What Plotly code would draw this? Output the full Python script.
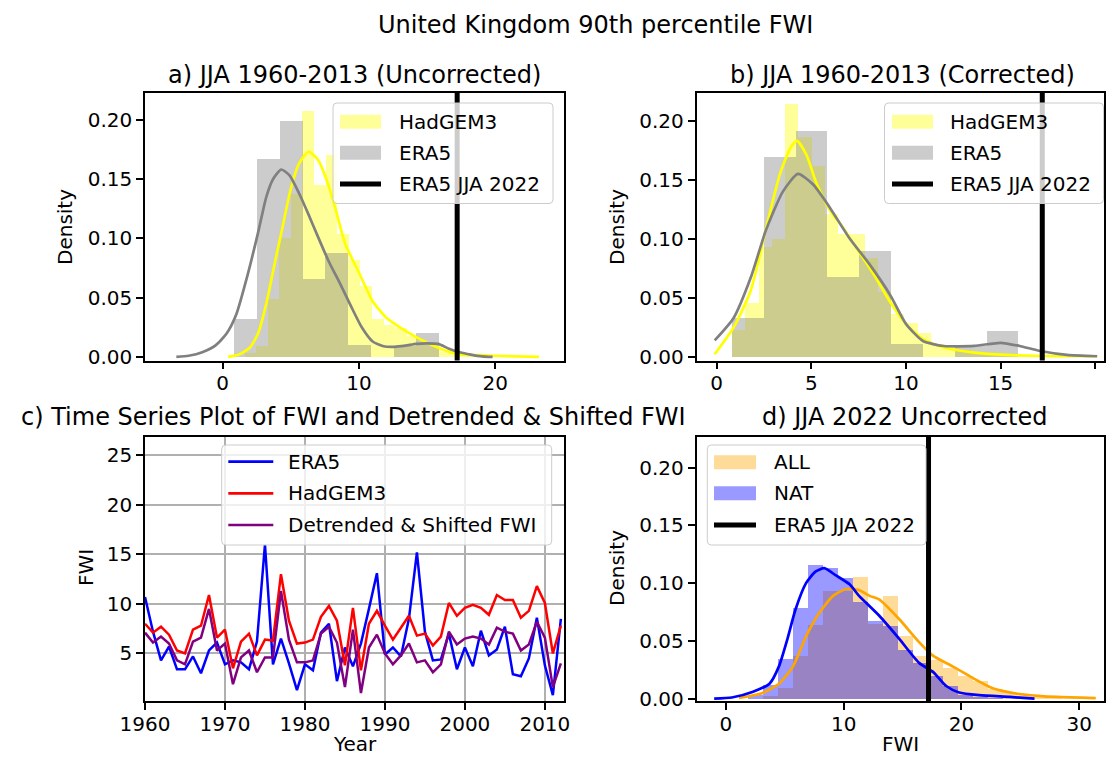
import numpy as np
import plotly.graph_objects as go

W, H = 1107, 762
FONT = "DejaVu Sans"

# ---------------- data ----------------
years = list(range(1960, 2013))
era5_fwi = [10.7, 7.2, 4.3, 5.7, 3.4, 3.4, 4.7, 3.0, 5.3, 6.1,
            3.9, 4.3, 4.1, 3.4, 6.2, 16.0, 3.9, 6.5, 4.0, 1.3,
            3.9, 3.3, 7.1, 8.0, 2.2, 5.6, 3.7, 6.0, 9.5, 13.1,
            4.9, 5.6, 4.7, 8.5, 15.2, 7.2, 4.3, 4.4, 7.0, 3.4,
            5.6, 3.7, 7.3, 4.8, 5.4, 7.7, 2.9, 2.7, 4.5, 8.6,
            3.8, 0.8, 8.5]
hadgem3_fwi = [8.0, 7.1, 7.7, 6.9, 5.3, 5.0, 7.4, 7.8, 10.9, 6.6,
               7.4, 3.5, 6.2, 7.0, 4.8, 6.4, 6.3, 13.0, 8.3, 6.0,
               6.1, 6.4, 8.7, 9.8, 8.3, 3.8, 9.6, 3.3, 8.0, 9.3,
               7.8, 6.4, 7.6, 8.8, 6.8, 7.0, 5.8, 6.7, 10.1, 8.8,
               9.6, 9.9, 9.6, 8.9, 10.9, 10.4, 10.4, 8.6, 9.3, 11.8,
               10.1, 5.0, 7.8]
detrended_fwi = [7.1, 6.1, 6.7, 6.0, 4.3, 3.9, 6.2, 6.6, 9.5, 5.3,
                 6.0, 1.9, 4.6, 5.3, 3.1, 4.6, 4.6, 11.3, 6.4, 4.1,
                 4.1, 4.3, 7.0, 7.7, 6.1, 1.6, 7.4, 1.0, 5.6, 6.9,
                 5.0, 3.9, 4.8, 6.0, 4.1, 4.3, 3.1, 3.9, 7.2, 5.9,
                 6.5, 6.7, 6.5, 5.9, 7.6, 7.2, 7.0, 5.3, 5.9, 8.2,
                 6.6, 1.6, 4.0]

era5_jja_2022 = 17.2

# panel a (uncorrected)
a_had_edges = [1.60, 2.45, 3.30, 4.15, 5.00, 5.85, 6.70, 7.55, 8.40, 9.25, 10.10, 10.95,
               11.80, 12.65, 13.50, 14.35, 15.20, 16.05, 16.90, 17.75, 18.60, 19.45, 20.30]
a_had_dens = [0.003, 0.009, 0.049, 0.100, 0.137, 0.207, 0.145, 0.170, 0.104, 0.082, 0.060,
              0.032, 0.027, 0.024, 0.018, 0.012, 0.008, 0.004, 0.002, 0.001, 0.001, 0.001]
a_era5_edges = [0.85, 2.52, 4.19, 5.86, 7.53, 9.20, 10.87, 12.54, 14.21, 15.88]
a_era5_dens = [0.032, 0.167, 0.199, 0.066, 0.088, 0.010, 0.0, 0.009, 0.020]
a_had_kde_x = [0.4, 1.2, 2.0, 2.6, 3.2, 3.8, 4.4, 5.0, 5.6, 6.3, 7.0, 7.6, 8.2, 9.0, 10.0,
               11.0, 12.0, 13.0, 14.0, 15.0, 16.0, 17.0, 18.0, 19.0, 20.0, 21.5, 23.2]
a_had_kde_y = [0.0, 0.002, 0.008, 0.02, 0.045, 0.078, 0.11, 0.142, 0.163, 0.173, 0.166, 0.15,
               0.128, 0.095, 0.071, 0.047, 0.033, 0.025, 0.018, 0.012, 0.007, 0.003, 0.0015,
               0.0015, 0.001, 0.0005, 0.0]
a_era5_kde_x = [-3.4, -2.5, -1.5, -0.5, 0.3, 1.0, 1.8, 2.6, 3.2, 3.7, 4.3, 4.9, 5.6, 6.3, 7.0,
                7.8, 8.6, 9.4, 10.2, 11.0, 11.8, 12.6, 13.4, 14.2, 15.0, 15.8, 16.6, 17.4,
                18.2, 19.0, 19.8]
a_era5_kde_y = [0.0, 0.001, 0.004, 0.01, 0.02, 0.036, 0.068, 0.105, 0.135, 0.15, 0.158, 0.153,
                0.138, 0.12, 0.101, 0.08, 0.062, 0.043, 0.025, 0.013, 0.009, 0.0085, 0.0095,
                0.011, 0.0115, 0.011, 0.007, 0.004, 0.002, 0.0005, 0.0]

# panel b (corrected)
b_had_edges = [0.79, 1.49, 2.19, 2.89, 3.59, 4.29, 4.99, 5.69, 6.39, 7.09, 7.79, 8.49, 9.19,
               9.89, 10.59, 11.29, 11.99, 12.69, 13.39, 14.09, 14.79, 15.49, 16.19, 16.89, 17.59]
b_had_dens = [0.023, 0.046, 0.093, 0.100, 0.214, 0.186, 0.162, 0.121, 0.104, 0.104, 0.084,
              0.055, 0.036, 0.029, 0.020, 0.011, 0.008, 0.006, 0.004, 0.003, 0.002, 0.002,
              0.001, 0.001]
b_era5_edges = [0.79, 2.47, 4.15, 5.83, 7.51, 9.19, 10.87, 12.55, 14.23, 15.91]
b_era5_dens = [0.033, 0.169, 0.191, 0.068, 0.090, 0.011, 0.0, 0.009, 0.022]
b_had_kde_x = [-0.1, 0.9, 1.8, 2.6, 3.35, 3.9, 4.25, 4.75, 5.3, 6.0, 6.7, 7.4, 8.3, 9.15,
               10.0, 10.9, 12.0, 13.6, 15.3, 17.1, 20.1]
b_had_kde_y = [0.0023, 0.025, 0.056, 0.108, 0.155, 0.177, 0.183, 0.171, 0.146, 0.124, 0.109,
               0.092, 0.07, 0.047, 0.028, 0.015, 0.008, 0.0037, 0.0017, 0.0008, 0.0006]
b_era5_kde_x = [-0.1, 0.9, 1.8, 2.6, 3.5, 4.3, 5.1, 6.0, 7.0, 8.1, 9.15, 10.0, 10.9, 12.0,
                13.6, 15.0, 16.0, 17.1, 18.5, 20.1]
b_era5_kde_y = [0.014, 0.033, 0.067, 0.107, 0.14, 0.155, 0.146, 0.126, 0.101, 0.078, 0.053,
                0.028, 0.0135, 0.0093, 0.0093, 0.012, 0.0093, 0.005, 0.0017, 0.0006]

# panel d (2022 uncorrected)
d_all_edges = [3.12, 4.39, 5.66, 6.93, 8.20, 9.47, 10.74, 12.01, 13.28, 14.55, 15.82, 17.09,
               18.36, 19.63, 20.90, 22.17, 23.44, 24.71, 25.98, 27.25, 28.52]
d_all_dens = [0.003, 0.010, 0.037, 0.064, 0.094, 0.094, 0.106, 0.065, 0.089, 0.055, 0.037,
              0.034, 0.027, 0.020, 0.016, 0.009, 0.006, 0.003, 0.002, 0.001]
d_nat_edges = [1.85, 3.12, 4.39, 5.66, 6.93, 8.20, 9.47, 10.74, 12.01, 13.28, 14.55, 15.82,
               17.09, 18.36, 19.63, 20.90, 22.17, 23.44]
d_nat_dens = [0.004, 0.012, 0.035, 0.079, 0.116, 0.114, 0.105, 0.084, 0.068, 0.063, 0.043,
              0.031, 0.020, 0.011, 0.004, 0.002, 0.001]
d_all_kde_x = [1.1, 3.1, 4.5, 5.7, 6.8, 7.9, 9.1, 10.2, 11.3, 12.2, 13.0, 14.7, 16.4, 17.6,
               19.25, 20.95, 22.65, 24.6, 26.5, 28.1, 31.4]
d_all_kde_y = [0.0006, 0.005, 0.013, 0.028, 0.054, 0.074, 0.089, 0.095, 0.094, 0.089, 0.086,
               0.069, 0.049, 0.037, 0.028, 0.018, 0.009, 0.0045, 0.0025, 0.0015, 0.0005]
d_nat_kde_x = [-1.0, 0.5, 2.3, 3.7, 4.5, 5.2, 5.9, 6.8, 7.6, 8.35, 9.3, 10.5, 11.3, 11.9,
               13.0, 14.7, 16.4, 17.6, 18.7, 19.8, 21.5, 24.1, 26.2]
d_nat_kde_y = [0.0, 0.001, 0.006, 0.013, 0.028, 0.051, 0.077, 0.1, 0.11, 0.113, 0.107, 0.099,
               0.089, 0.083, 0.072, 0.052, 0.031, 0.023, 0.011, 0.0054, 0.0031, 0.0015, 0.0]

# ---------------- styles ----------------
YELLOW_FILL = "rgba(255,255,0,0.4)"
GRAY_FILL = "rgba(128,128,128,0.4)"
ORANGE_FILL = "rgba(255,165,0,0.4)"
BLUE_FILL = "rgba(0,0,255,0.4)"


def px(x):
    return x / W


def py(y):
    return 1 - y / H


fig = go.Figure()


def add_hist(edges, dens, color, xa, ya):
    e = np.array(edges, dtype=float)
    fig.add_trace(go.Bar(x=(e[:-1] + e[1:]) / 2, y=dens, width=np.diff(e),
                         marker=dict(color=color, line=dict(width=0)),
                         xaxis=xa, yaxis=ya, showlegend=False, hoverinfo="skip"))


def add_line(x, y, color, xa, ya, width=2.7, spline=True):
    line = dict(color=color, width=width)
    if spline:
        line.update(shape="spline", smoothing=0.6)
    fig.add_trace(go.Scatter(x=x, y=y, mode="lines", line=line, xaxis=xa, yaxis=ya,
                             showlegend=False, hoverinfo="skip"))


# panel a
add_hist(a_had_edges, a_had_dens, YELLOW_FILL, "x", "y")
add_hist(a_era5_edges, a_era5_dens, GRAY_FILL, "x", "y")
add_line(a_had_kde_x, a_had_kde_y, "#ffff00", "x", "y")
add_line(a_era5_kde_x, a_era5_kde_y, "#808080", "x", "y")
# panel b
add_hist(b_had_edges, b_had_dens, YELLOW_FILL, "x2", "y2")
add_hist(b_era5_edges, b_era5_dens, GRAY_FILL, "x2", "y2")
add_line(b_had_kde_x, b_had_kde_y, "#ffff00", "x2", "y2")
add_line(b_era5_kde_x, b_era5_kde_y, "#808080", "x2", "y2")
# panel c
add_line(years, era5_fwi, "#0000ff", "x3", "y3", width=2.5, spline=False)
add_line(years, hadgem3_fwi, "#ff0000", "x3", "y3", width=2.5, spline=False)
add_line(years, detrended_fwi, "#800080", "x3", "y3", width=2.5, spline=False)
# panel d
add_hist(d_all_edges, d_all_dens, ORANGE_FILL, "x4", "y4")
add_hist(d_nat_edges, d_nat_dens, BLUE_FILL, "x4", "y4")
add_line(d_all_kde_x, d_all_kde_y, "#ffa500", "x4", "y4")
add_line(d_nat_kde_x, d_nat_kde_y, "#0000ff", "x4", "y4")

# ---------------- axes ----------------
tickfont = dict(family=FONT, size=20, color="black")
base = dict(showline=True, mirror=True, linecolor="black", linewidth=1.5, ticks="outside",
            ticklen=7, tickwidth=1.5, tickcolor="black", showgrid=False, zeroline=False,
            tickfont=tickfont, fixedrange=True, automargin=False)
xbase = dict(base, ticklabelstandoff=-3)
ybase = dict(base, ticklabelstandoff=0)

xa_dom = [px(145), px(563.5)]
xb_dom = [px(696.5), px(1104)]
ytop_dom = [py(360.5), py(93)]
ybot_dom = [py(701), py(436.5)]

fig.update_layout(
    xaxis=dict(xbase, domain=xa_dom, range=[-5.7, 25.0], anchor="y", tickvals=[0, 10, 20]),
    yaxis=dict(ybase, domain=ytop_dom, range=[-0.003, 0.2225], anchor="x",
               tickvals=[0, 0.05, 0.10, 0.15, 0.20], tickformat=".2f"),
    xaxis2=dict(xbase, domain=xb_dom, range=[-1.06, 20.46], anchor="y2",
                tickvals=[0, 5, 10, 15, 20]),
    yaxis2=dict(ybase, domain=ytop_dom, range=[-0.003, 0.2235], anchor="x2",
                tickvals=[0, 0.05, 0.10, 0.15, 0.20], tickformat=".2f"),
    xaxis3=dict(xbase, domain=xa_dom, range=[1960, 2012.33], anchor="y3",
                tickvals=[1960, 1970, 1980, 1990, 2000, 2010], showgrid=True,
                gridcolor="#b0b0b0", gridwidth=1.5),
    yaxis3=dict(ybase, domain=ybot_dom, range=[0.2, 26.9], anchor="x3",
                tickvals=[5, 10, 15, 20, 25], showgrid=True, gridcolor="#b0b0b0",
                gridwidth=1.5),
    xaxis4=dict(xbase, domain=xb_dom, range=[-2.5, 32.1], anchor="y4",
                tickvals=[0, 10, 20, 30]),
    yaxis4=dict(ybase, domain=ybot_dom, range=[-0.002, 0.227], anchor="x4",
                tickvals=[0, 0.05, 0.10, 0.15, 0.20], tickformat=".2f"),
)

# ---------------- shapes: vertical lines + legends ----------------
shapes = []
for xr, yr in [("x", "y"), ("x2", "y2"), ("x4", "y4")]:
    shapes.append(dict(type="line", xref=xr, yref=yr + " domain", x0=era5_jja_2022,
                       x1=era5_jja_2022, y0=0, y1=1, line=dict(color="black", width=5),
                       layer="above"))

annotations = []


def legend(box, handle_x, text_x, rows):
    x0, x1, y0, y1 = box
    r = 4
    rx, ry = r / W, r / H
    X0, X1, YB, YT = px(x0), px(x1), py(y1), py(y0)
    path = (f"M {X0+rx},{YB} L {X1-rx},{YB} Q {X1},{YB} {X1},{YB+ry} L {X1},{YT-ry} "
            f"Q {X1},{YT} {X1-rx},{YT} L {X0+rx},{YT} Q {X0},{YT} {X0},{YT-ry} "
            f"L {X0},{YB+ry} Q {X0},{YB} {X0+rx},{YB} Z")
    shapes.append(dict(type="path", xref="paper", yref="paper", path=path,
                       fillcolor="rgba(255,255,255,0.8)",
                       line=dict(color="#cccccc", width=1), layer="above"))
    for kind, color, label, yc, lw in rows:
        if kind == "patch":
            shapes.append(dict(type="rect", xref="paper", yref="paper",
                               x0=px(handle_x[0]), x1=px(handle_x[1]),
                               y0=py(yc + 7), y1=py(yc - 7), fillcolor=color,
                               line=dict(width=0), layer="above"))
        else:
            shapes.append(dict(type="line", xref="paper", yref="paper",
                               x0=px(handle_x[0]), x1=px(handle_x[1]), y0=py(yc), y1=py(yc),
                               line=dict(color=color, width=lw), layer="above"))
        annotations.append(dict(x=px(text_x), y=py(yc), xref="paper", yref="paper",
                                text=label, showarrow=False, xanchor="left",
                                yanchor="middle", font=dict(family=FONT, size=20,
                                                            color="black")))


legend((333, 553, 103, 203.5), (340, 381), 397,
       [("patch", YELLOW_FILL, "HadGEM3", 121.7, 0),
        ("patch", GRAY_FILL, "ERA5", 152.7, 0),
        ("line", "black", "ERA5 JJA 2022", 184, 5)])
legend((884.5, 1103.5, 103, 203.5), (892, 933), 948,
       [("patch", YELLOW_FILL, "HadGEM3", 121.7, 0),
        ("patch", GRAY_FILL, "ERA5", 152.7, 0),
        ("line", "black", "ERA5 JJA 2022", 184, 5)])
legend((221.7, 551.7, 445, 545), (228.3, 273.3), 285.5,
       [("line", "#0000ff", "ERA5", 461.7, 2.7),
        ("line", "#ff0000", "HadGEM3", 493.3, 2.7),
        ("line", "#800080", "Detrended &amp; Shifted FWI", 525, 2.7)])
legend((707.3, 926, 445, 545), (714, 756), 771.5,
       [("patch", ORANGE_FILL, "ALL", 462.3, 0),
        ("patch", BLUE_FILL, "NAT", 493.3, 0),
        ("line", "black", "ERA5 JJA 2022", 525, 5)])


def text(x, y, s, size=20, angle=0):
    annotations.append(dict(x=px(x), y=py(y), xref="paper", yref="paper", text=s,
                            showarrow=False, xanchor="center", yanchor="middle",
                            textangle=angle, font=dict(family=FONT, size=size,
                                                       color="black")))


text(595, 25, "United Kingdom 90th percentile FWI", size=24)
text(354.5, 75, "a) JJA 1960-2013 (Uncorrected)", size=24)
text(902, 75, "b) JJA 1960-2013 (Corrected)", size=24)
text(353.5, 417, "c) Time Series Plot of FWI and Detrended &amp; Shifted FWI", size=24)
text(905, 417, "d) JJA 2022 Uncorrected", size=24)
text(65, 227, "Density", angle=-90)
text(617, 227, "Density", angle=-90)
text(86, 568, "FWI", angle=-90)
text(617, 568, "Density", angle=-90)
text(354.5, 744, "Year")
text(900, 744, "FWI")

fig.update_layout(
    width=W, height=H, margin=dict(l=0, r=0, t=0, b=0, autoexpand=False),
    paper_bgcolor="white", plot_bgcolor="white",
    barmode="overlay", bargap=0, showlegend=False,
    font=dict(family=FONT, size=20, color="black"),
    shapes=shapes, annotations=annotations,
)

fig.write_html("out.html")
